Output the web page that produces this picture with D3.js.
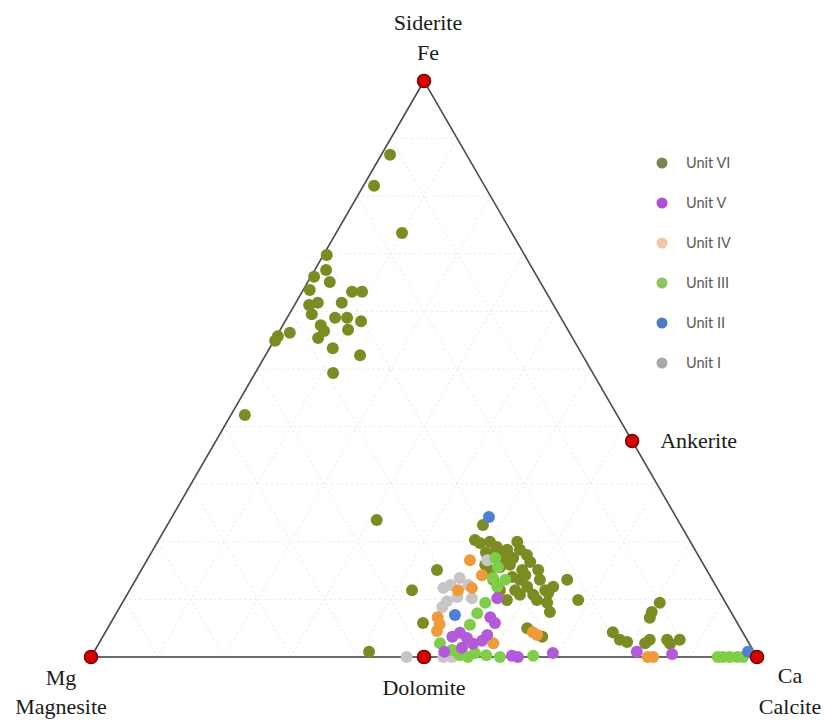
<!DOCTYPE html>
<html>
<head>
<meta charset="utf-8">
<script src="https://cdn.jsdelivr.net/npm/d3@7"></script>
<style>
  html, body { margin: 0; padding: 0; background: #fff; }
  svg { display: block; }
</style>
</head>
<body>
<svg id="chart" width="830" height="723"></svg>
<script>
// Carbonate compositions as [Fe %, Ca %]; Mg % = 100 - Fe - Ca.
const unitVI = [
  [87.2,1.3],[81.8,1.6],[73.6,9.9],[69.8,0.5],[67.2,1.7],[66.0,0.5],[65.1,3.3],[63.7,1.0],
  [63.4,7.5],[63.4,9.0],[61.1,2.2],[61.5,3.3],[61.5,6.9],[59.5,3.4],[58.9,7.2],[58.9,9.0],
  [58.3,11.4],[57.6,5.7],[56.8,10.2],[56.6,6.7],[55.7,0.2],[56.3,1.7],[54.9,0.2],[55.4,6.4],
  [53.6,9.5],[52.4,14.2],[49.3,11.7],[42.0,2.1],[23.8,31.0],[0.9,41.3],
  [22.9,47.4],[20.0,54.0],[19.8,48.5],[20.0,49.9],[19.1,51.4],[18.6,53.2],[18.6,55.1],[17.7,56.6],
  [15.1,44.4],[11.6,42.4],[5.9,46.9],[17.2,54.8],[16.5,57.7],[15.1,59.6],[15.6,53.6],[13.9,56.3],
  [13.4,57.7],[12.2,59.4],[10.8,61.0],[13.4,64.8],[9.9,68.2],[12.2,63.3],[11.1,63.1],[9.9,62.0],
  [9.4,63.8],[7.8,65.0],[15.1,52.4],[13.4,53.7],[11.6,55.6],[9.9,57.5],[5.0,63.0],[3.5,66.0],
  [16.5,53.9],[18.2,50.2],[15.1,57.2],[11.6,57.9],
  [18.2,51.6],[17.7,53.0],[16.0,54.9],[14.2,58.1],[13.4,60.7],[11.6,62.4],[10.8,59.0],
  [20.3,47.5],[16.0,51.2],
  [9.4,80.7],[7.8,80.3],[6.8,80.5],[4.3,76.2],[3.0,77.9],[2.6,79.2],[3.0,82.4],[2.4,82.0],
  [3.0,85.0],[3.0,86.9],[2.3,85.8]
];
const unitV = [
  [10.2,55.9],[6.9,56.5],[5.9,57.7],[3.8,57.6],[3.5,52.5],[4.2,53.3],[3.3,54.8],[2.3,56.2],
  [0.2,63.1],[0.0,64.1],[0.7,69.0],[0.9,81.5],[0.5,87.0],[1.6,54.9],[0.9,52.6],[2.8,57.3]
];
const unitIV = [
  [16.8,48.5],[14.2,51.6],[12.0,51.2],[6.9,48.6],[5.7,49.5],[4.5,49.7],[2.4,59.2],[3.8,65.1],
  [0.0,83.6],[0.0,84.4],[11.6,49.3],[4.3,64.2]
];
const unitIII = [
  [0.0,94.1],[0.0,94.9],[0.0,95.9],[0.0,97.0],[0.0,97.9],[2.4,51.2],[0.3,55.2],[0.0,56.6],
  [0.7,57.3],[0.3,59.2],[0.0,61.4],[0.2,66.3],[17.2,52.1],[15.6,53.3],[13.7,53.5],[12.2,54.9],
  [9.4,54.5],[7.6,54.2],[5.6,54.1],[1.2,53.6],[13.4,55.5]
];
const unitII = [[24.3,47.6],[7.3,51.0],[0.9,98.2]];
const unitI = [
  [12.0,46.9],[12.5,47.7],[13.7,48.5],[10.4,49.8],[8.7,48.4],[9.7,48.6],[16.8,51.1],[10.2,52.1],
  [0.0,52.9],[0.0,47.4],[0.0,54.2],[12.5,50.4]
];

const legendNames = ["Unit VI","Unit V","Unit IV","Unit III","Unit II","Unit I"];

// End-member and reference minerals as [Fe %, Ca %]
const minerals = [
  { name: ["Siderite","Fe"], comp: [100, 0] },
  { name: ["Mg","Magnesite"], comp: [0, 0] },
  { name: ["Ca","Calcite"], comp: [0, 100] },
  { name: ["Dolomite"], comp: [0, 50] },
  { name: ["Ankerite"], comp: [37.5, 62.5] }
];

const svg = d3.select("#chart");

// Ternary layout: vertical position from Fe, horizontal from Ca + Fe/2
const yFe = d3.scaleLinear().domain([0, 100]).range([657, 81]);
const xT  = d3.scaleLinear().domain([0, 100]).range([91, 757]);
const px = d => xT(d[1] + d[0] / 2);
const py = d => yFe(d[0]);

// Faint 10 % grid
const grid = svg.append("g").attr("stroke", "#e8e8e8").attr("stroke-width", 1)
  .attr("stroke-dasharray", "2,3").attr("fill", "none");
d3.range(10, 100, 10).forEach(v => {
  const segs = [
    [[v, 0], [v, 100 - v]],          // constant Fe
    [[0, v], [100 - v, v]],          // constant Ca
    [[0, 100 - v], [100 - v, 0]]     // constant Mg
  ];
  segs.forEach(s => grid.append("line")
    .attr("x1", px(s[0])).attr("y1", py(s[0]))
    .attr("x2", px(s[1])).attr("y2", py(s[1])));
});

// Triangle outline
const corners = [[100, 0], [0, 0], [0, 100]];
svg.append("path")
  .attr("d", d3.line().x(px).y(py)(corners) + "Z")
  .attr("fill", "none").attr("stroke", "#4a4a4a").attr("stroke-width", 1.6);
svg.append("line")
  .attr("x1", px([0,0])).attr("y1", py([0,0]))
  .attr("x2", px([0,100])).attr("y2", py([0,100]))
  .attr("stroke", "#6a6a6a").attr("stroke-width", 2.2);

// Data series (drawing order sets stacking)
const colors = {
  "Unit VI": "#7d8c22",
  "Unit V": "#b35ad8",
  "Unit IV": "#ef9b3c",
  "Unit III": "#7fcd48",
  "Unit II": "#4d7fd2",
  "Unit I": "#c6c6c6"
};
const legendColors = {
  "Unit VI": "#7a8450",
  "Unit V": "#b050d0",
  "Unit IV": "#efc9a4",
  "Unit III": "#8cc65a",
  "Unit II": "#4a7cc4",
  "Unit I": "#a9a9a9"
};
const series = [
  ["Unit VI", unitVI], ["Unit I", unitI], ["Unit IV", unitIV],
  ["Unit III", unitIII], ["Unit V", unitV], ["Unit II", unitII]
];
series.forEach(([name, pts]) => {
  svg.append("g").selectAll("circle").data(pts).join("circle")
    .attr("cx", px).attr("cy", py).attr("r", 6)
    .attr("fill", colors[name]);
});

// Mineral markers and labels
const serif = "'Liberation Serif', 'Times New Roman', serif";
const mg = svg.append("g");
mg.selectAll("circle").data(minerals).join("circle")
  .attr("cx", d => px(d.comp)).attr("cy", d => py(d.comp)).attr("r", 6.5)
  .attr("fill", "#d90000").attr("stroke", "#7a0000").attr("stroke-width", 1.5);

const label = (lines, x, y, anchor, gap) => {
  const t = svg.append("text").attr("font-family", serif).attr("font-size", 22)
    .attr("fill", "#1a1a1a").attr("text-anchor", anchor);
  lines.forEach((s, i) => t.append("tspan").attr("x", x).attr("y", y + i * gap).text(s));
};
const m = Object.fromEntries(minerals.map(d => [d.name[d.name.length - 1], d.comp]));
label(["Siderite", "Fe"], px(m["Fe"]) + 4, 30, "middle", 30);
label(["Mg", "Magnesite"], px(m["Magnesite"]) - 30, py(m["Magnesite"]) + 28, "middle", 29);
label(["Ca", "Calcite"], px(m["Calcite"]) + 33, py(m["Calcite"]) + 26, "middle", 31);
label(["Dolomite"], px(m["Dolomite"]), py(m["Dolomite"]) + 38, "middle", 0);
label(["Ankerite"], px(m["Ankerite"]) + 28, py(m["Ankerite"]) + 7, "start", 0);

// Legend
const lg = svg.append("g").attr("transform", "translate(662,163)");
legendNames.forEach((n, i) => {
  const row = lg.append("g").attr("transform", `translate(0,${i * 40})`);
  row.append("circle").attr("r", 5.5).attr("fill", legendColors[n]);
  row.append("text").attr("x", 24).attr("y", 5)
    .attr("font-family", "Lato, 'Open Sans', sans-serif").attr("font-size", 14.5)
    .attr("fill", "#595959").text(n);
});
</script>
</body>
</html>
